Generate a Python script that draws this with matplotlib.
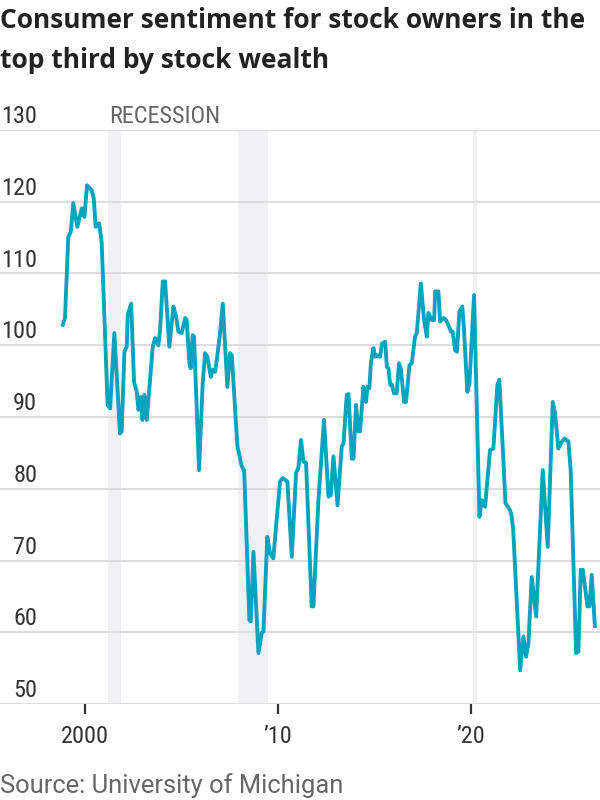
import matplotlib
matplotlib.use('Agg')
import matplotlib.pyplot as plt
import matplotlib.transforms as mtransforms

# decimal year of each reading, and the sentiment index value
years = [
    1998.82, 1998.96, 1999.13, 1999.26, 1999.39, 1999.60, 1999.83, 1999.97,
    2000.10, 2000.35, 2000.45, 2000.55, 2000.73, 2000.86, 2001.17, 2001.30,
    2001.52, 2001.81, 2001.90, 2002.04, 2002.16, 2002.21, 2002.39, 2002.54,
    2002.68, 2002.77, 2002.90, 2002.97, 2003.08, 2003.20, 2003.51, 2003.63,
    2003.80, 2003.89, 2004.03, 2004.15, 2004.37, 2004.58, 2004.72, 2004.84,
    2005.01, 2005.19, 2005.27, 2005.41, 2005.48, 2005.58, 2005.65, 2005.91,
    2006.10, 2006.22, 2006.34, 2006.52, 2006.62, 2006.74, 2006.83, 2007.00,
    2007.14, 2007.38, 2007.52, 2007.61, 2007.90, 2008.12, 2008.25, 2008.52,
    2008.59, 2008.73, 2008.99, 2009.16, 2009.25, 2009.45, 2009.59, 2009.76,
    2010.11, 2010.25, 2010.49, 2010.72, 2010.94, 2011.06, 2011.20, 2011.32,
    2011.46, 2011.75, 2011.84, 2012.10, 2012.39, 2012.62, 2012.74, 2012.88,
    2013.09, 2013.31, 2013.40, 2013.57, 2013.66, 2013.83, 2013.92, 2014.05,
    2014.17, 2014.26, 2014.43, 2014.57, 2014.64, 2014.74, 2014.82, 2014.95,
    2015.04, 2015.13, 2015.30, 2015.39, 2015.56, 2015.65, 2015.73, 2015.82,
    2015.91, 2016.02, 2016.16, 2016.28, 2016.38, 2016.54, 2016.64, 2016.82,
    2016.94, 2017.11, 2017.20, 2017.41, 2017.58, 2017.72, 2017.80, 2017.98,
    2018.10, 2018.15, 2018.32, 2018.41, 2018.58, 2018.72, 2018.84, 2018.97,
    2019.06, 2019.19, 2019.28, 2019.41, 2019.56, 2019.65, 2019.82, 2019.93,
    2020.17, 2020.45, 2020.57, 2020.74, 2021.00, 2021.17, 2021.38, 2021.48,
    2021.80, 2022.04, 2022.12, 2022.20, 2022.56, 2022.73, 2022.87, 2022.99,
    2023.16, 2023.39, 2023.73, 2023.99, 2024.25, 2024.37, 2024.54, 2024.66,
    2024.85, 2025.06, 2025.18, 2025.46, 2025.58, 2025.70, 2025.81, 2026.05,
    2026.15, 2026.27, 2026.44,
]
sentiment = [
    102.6, 103.8, 115.1, 115.8, 119.8, 116.5, 119.1, 117.9,
    122.3, 121.6, 120.5, 116.5, 117.0, 114.4, 91.7, 91.2,
    101.7, 87.7, 88.0, 99.1, 99.8, 104.2, 105.8, 94.9,
    93.5, 91.0, 92.8, 89.6, 93.1, 89.6, 99.8, 101.0,
    100.0, 102.1, 108.9, 108.9, 99.8, 105.4, 104.0, 101.9,
    101.7, 103.8, 103.5, 97.5, 96.8, 101.4, 101.2, 82.6,
    94.7, 98.9, 98.4, 95.6, 96.6, 96.3, 97.9, 101.7,
    105.8, 94.2, 98.9, 98.6, 85.9, 83.2, 82.5, 61.7,
    61.5, 71.2, 57.1, 59.9, 60.1, 73.3, 71.0, 70.3,
    81.0, 81.5, 81.0, 70.5, 82.2, 82.9, 86.8, 83.8,
    83.6, 63.6, 63.6, 78.4, 89.6, 78.9, 79.1, 84.5,
    77.7, 85.9, 86.3, 93.1, 93.2, 84.2, 84.2, 91.7,
    88.0, 88.0, 94.2, 92.1, 94.2, 94.0, 97.5, 99.6,
    98.4, 98.6, 98.4, 100.2, 100.5, 97.0, 96.8, 94.5,
    94.5, 93.3, 93.3, 97.5, 96.6, 92.1, 92.1, 97.2,
    97.5, 101.2, 101.7, 108.6, 103.5, 101.2, 104.5, 103.5,
    103.5, 107.5, 107.5, 103.3, 103.8, 103.5, 102.8, 101.9,
    101.9, 99.3, 99.1, 104.7, 105.4, 102.1, 93.5, 94.7,
    107.0, 76.1, 78.4, 77.5, 85.4, 85.6, 94.5, 95.2,
    78.0, 77.0, 76.1, 74.3, 54.7, 59.4, 56.6, 58.5,
    67.7, 62.2, 82.6, 71.9, 92.1, 90.5, 85.6, 86.3,
    87.0, 86.6, 82.6, 57.1, 57.3, 68.7, 68.7, 63.6,
    63.6, 68.0, 60.6,
]

# recession periods (start, end) in decimal years
recessions = [(2001.17, 2001.88), (2007.92, 2009.46), (2020.10, 2020.33)]

y_ticks = [50, 60, 70, 80, 90, 100, 110, 120, 130]
x_ticks = [2000, 2010, 2020]
x_labels = ['2000', '\u201910', '\u201920']

narrow = ['Roboto Condensed', 'DejaVu Sans']
title_font = ['Open Sans', 'DejaVu Sans']

fig = plt.figure(figsize=(6, 8), dpi=100)
ax = fig.add_axes([0, 0.12, 1, 0.7175])

for start, end in recessions:
    ax.axvspan(start, end, color='#f0f1f3', lw=0, zorder=0)

for v in y_ticks:
    ax.axhline(v, color='#dddddd', lw=1.4, zorder=1)

ax.plot(years, sentiment, color='#07a4be', lw=2.8, zorder=3,
        solid_joinstyle='round', solid_capstyle='butt')

ax.set_xlim(1995.59, 2026.70)
ax.set_ylim(50, 130)

for s in ax.spines.values():
    s.set_visible(False)

ax.set_yticks([])
ax.set_xticks(x_ticks)
ax.set_xticklabels(x_labels, fontsize=17.5, family=narrow, color='#333333')
ax.tick_params(axis='x', length=7, width=1.6, color='#333333', pad=8)

# y labels sit just above their gridline
above = mtransforms.offset_copy(ax.get_yaxis_transform(), fig=fig, x=0, y=5, units='points')
for v in y_ticks:
    ax.text(0.062, v, str(v), transform=above, ha='right', va='baseline',
            fontsize=17.5, family=narrow, color='#333333')

rec_tr = mtransforms.offset_copy(ax.transData, fig=fig, x=1, y=5, units='points')
ax.text(recessions[0][0], 130, 'RECESSION', transform=rec_tr, ha='left', va='baseline',
        fontsize=17.5, family=narrow, color='#666666')

fig.text(0.0, 1 - 28 / 800, 'Consumer sentiment for stock owners in the',
         fontsize=19, fontweight='bold', family=title_font,
         color='#222222', va='baseline', ha='left')
fig.text(0.0, 1 - 68 / 800, 'top third by stock wealth',
         fontsize=19, fontweight='bold', family=title_font,
         color='#222222', va='baseline', ha='left')

fig.text(0.0, 1 - 793 / 800, 'Source: University of Michigan',
         fontsize=18.4, family=['Roboto', 'DejaVu Sans'], color='#666666',
         va='baseline', ha='left')

fig.savefig('out.png', dpi=100)
